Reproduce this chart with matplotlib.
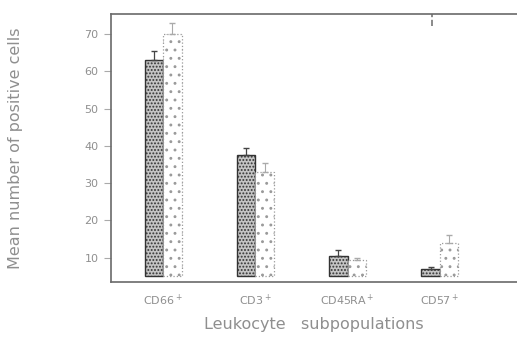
import numpy as np
import matplotlib
matplotlib.use('Agg')
import matplotlib.pyplot as plt

# values
subsets = ['CD66$^+$', 'CD3$^+$', 'CD45RA$^+$', 'CD57$^+$']
group_a = [63, 37.5, 10.5, 7]
group_a_err = [2.5, 2.0, 1.5, 0.5]
group_b = [70, 33, 9.5, 14]
group_b_err = [3, 2.5, 0.5, 2]
baseline = 5
stray_mark = [72, 77]  # odd vertical mark above CD57 in the scan

grey = '#6a6a6a'
text_grey = '#8f8f8f'

fig = plt.figure(figsize=(5.17, 3.44), dpi=100)
ax = fig.add_axes([0.215, 0.18, 0.785, 0.779])

x = np.arange(len(subsets))
w = 0.2
a = np.array(group_a)
b = np.array(group_b)

plt.rcParams['hatch.linewidth'] = 0.9
plt.rcParams['hatch.color'] = '#555555'
ax.bar(x - w / 2, a - baseline, w, bottom=baseline, facecolor='#c4c4c4',
       edgecolor='#333333', hatch='.....', linewidth=1.0)
ax.errorbar(x - w / 2, a, yerr=[np.zeros_like(a), group_a_err], fmt='none',
            ecolor='#444444', elinewidth=0.9, capsize=2)

ax.bar(x + w / 2, b - baseline, w, bottom=baseline, facecolor='white',
       edgecolor='#9a9a9a', hatch='. .', linewidth=0.9, linestyle=':')
ax.errorbar(x + w / 2, b, yerr=[np.zeros_like(b), group_b_err], fmt='none',
            ecolor='#aaaaaa', elinewidth=0.8, capsize=2, linestyle=':')

ax.plot([x[3] - 0.08] * 2, stray_mark, color='#777777', lw=1.2, ls='--')

ax.set_xlim(-0.563, 3.836)
ax.set_ylim(3.5, 75.3)
ax.set_yticks([10, 20, 30, 40, 50, 60, 70])
ax.set_xticks(x)
ax.set_xticklabels(subsets, color=text_grey, fontsize=8)
ax.tick_params(axis='x', length=0, pad=8)
ax.tick_params(axis='y', length=5, width=0.8, color='#aaaaaa', labelcolor=text_grey,
               labelsize=8, pad=4)

for s in ['left', 'bottom', 'top']:
    ax.spines[s].set_color(grey)
    ax.spines[s].set_linewidth(1.2)
ax.spines['right'].set_visible(False)

ax.set_xlabel('Leukocyte   subpopulations', color=text_grey, fontsize=11.5, labelpad=6)
ax.set_ylabel('Mean number of positive cells', color=text_grey, fontsize=11.5, labelpad=44)

fig.savefig('out.png', dpi=100)
